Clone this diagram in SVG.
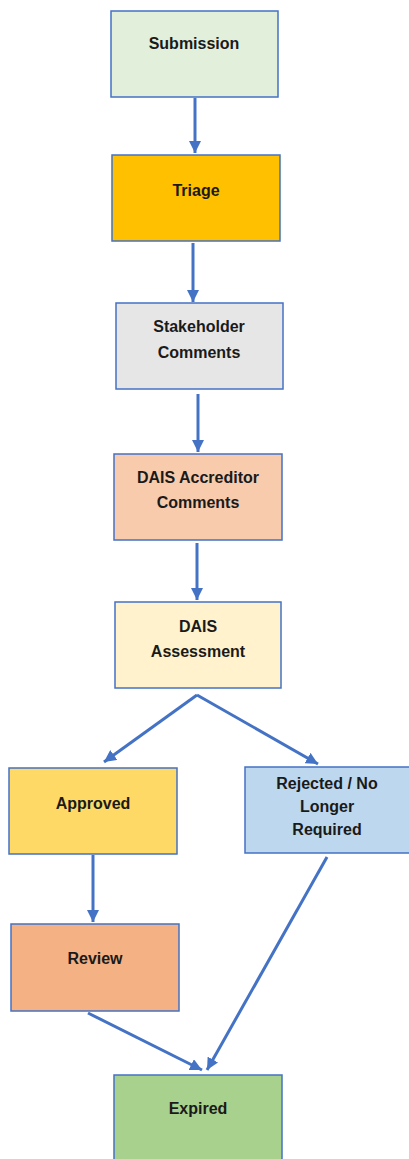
<svg xmlns="http://www.w3.org/2000/svg" width="409" height="1159" viewBox="0 0 409 1159">
<defs>
<style>
.box{stroke:#4472C4;stroke-width:1.5}
.lbl{font-family:"Liberation Sans",Arial,sans-serif;font-weight:bold;font-size:16px;fill:#1a1a1a;text-anchor:middle}
.conn{stroke:#4472C4;stroke-width:3;fill:none;marker-end:url(#arr)}
</style>
<marker id="arr" viewBox="0 0 10 10" refX="10" refY="5" markerWidth="4" markerHeight="4" orient="auto" markerUnits="strokeWidth">
<path d="M0,0 L10,5 L0,10 z" fill="#4472C4"/>
</marker>
</defs>
<rect width="409" height="1159" fill="#ffffff"/>
<g id="connectors">
<line class="conn" x1="195" y1="98" x2="195" y2="153"/>
<line class="conn" x1="193" y1="243" x2="193" y2="302"/>
<line class="conn" x1="198" y1="394" x2="198" y2="452"/>
<line class="conn" x1="197" y1="543" x2="197" y2="600"/>
<line class="conn" x1="197" y1="695" x2="104" y2="762"/>
<line class="conn" x1="197" y1="695" x2="318" y2="764"/>
<line class="conn" x1="93" y1="855" x2="93" y2="922"/>
<line class="conn" x1="88" y1="1013" x2="202" y2="1070"/>
<line class="conn" x1="327" y1="857" x2="207" y2="1070"/>
</g>
<g id="submission"><rect class="box" x="111" y="11" width="167" height="86" fill="#E2EFDA"/><text class="lbl" x="194" y="49">Submission</text></g>
<g id="triage"><rect class="box" x="112" y="155" width="168" height="86" fill="#FFC000"/><text class="lbl" x="196" y="196">Triage</text></g>
<g id="stakeholder"><rect class="box" x="116" y="303" width="167" height="86" fill="#E7E6E6"/><text class="lbl" x="199" y="332">Stakeholder</text><text class="lbl" x="199" y="358">Comments</text></g>
<g id="accreditor"><rect class="box" x="114" y="454" width="168" height="86" fill="#F8CBAD"/><text class="lbl" x="198" y="483">DAIS Accreditor</text><text class="lbl" x="198" y="508">Comments</text></g>
<g id="assessment"><rect class="box" x="115" y="602" width="166" height="86" fill="#FFF2CC"/><text class="lbl" x="198" y="632">DAIS</text><text class="lbl" x="198" y="657">Assessment</text></g>
<g id="approved"><rect class="box" x="9" y="768" width="168" height="86" fill="#FFD966"/><text class="lbl" x="93" y="809">Approved</text></g>
<g id="rejected"><rect class="box" x="245" y="767" width="166" height="86" fill="#BDD7EE"/><text class="lbl" x="327" y="789">Rejected / No</text><text class="lbl" x="327" y="812">Longer</text><text class="lbl" x="327" y="835">Required</text></g>
<g id="review"><rect class="box" x="11" y="924" width="168" height="87" fill="#F4B183"/><text class="lbl" x="95" y="964">Review</text></g>
<g id="expired"><rect class="box" x="114" y="1075" width="168" height="90" fill="#A9D18E"/><text class="lbl" x="198" y="1114">Expired</text></g>
</svg>
